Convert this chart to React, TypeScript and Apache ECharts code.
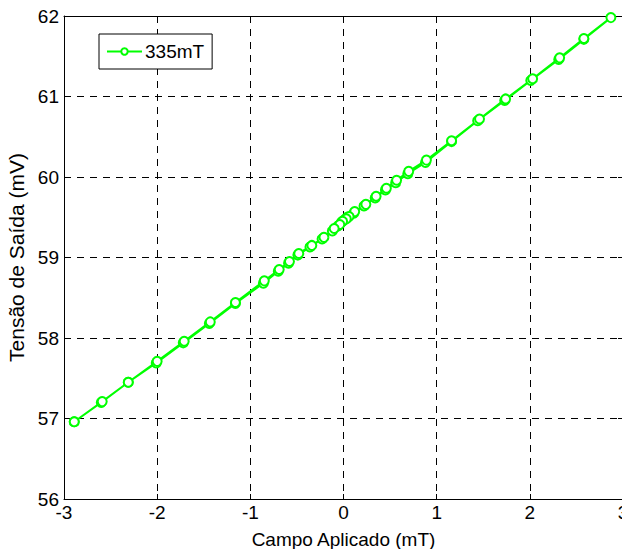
import React, { useEffect, useRef } from "react";
import * as echarts from "echarts";

const seriesName = "335mT";
// ascending branch
const xUp = [-2.89, -2.6, -2.31, -2.01, -1.72, -1.44, -1.16, -0.86, -0.7, -0.59, -0.49, -0.36, -0.23, -0.12, -0.06, -0.02, 0.01, 0.04, 0.11, 0.22, 0.34, 0.45, 0.56, 0.69, 0.88, 1.16, 1.44, 1.73, 2.01, 2.31, 2.58, 2.87];
const yUp = [56.96, 57.2, 57.45, 57.69, 57.94, 58.18, 58.43, 58.68, 58.83, 58.93, 59.03, 59.13, 59.23, 59.33, 59.39, 59.44, 59.47, 59.5, 59.55, 59.64, 59.74, 59.84, 59.93, 60.04, 60.18, 60.44, 60.7, 60.95, 61.2, 61.46, 61.71, 61.98];
// descending branch
const xDown = [2.58, 2.32, 2.03, 1.74, 1.46, 1.16, 0.89, 0.7, 0.57, 0.46, 0.35, 0.24, 0.12, 0.06, 0.03, -0.01, -0.04, -0.1, -0.21, -0.34, -0.48, -0.58, -0.69, -0.85, -1.16, -1.43, -1.71, -2.0, -2.31, -2.59, -2.89];
const yDown = [61.72, 61.48, 61.22, 60.97, 60.72, 60.45, 60.21, 60.07, 59.96, 59.86, 59.76, 59.66, 59.57, 59.51, 59.48, 59.45, 59.41, 59.36, 59.25, 59.15, 59.05, 58.95, 58.85, 58.71, 58.44, 58.2, 57.96, 57.71, 57.45, 57.21, 56.96];

const xTicks = [-3, -2, -1, 0, 1, 2, 3];
const yTicks = [56, 57, 58, 59, 60, 61, 62];

const FONT = "'Liberation Sans', Arial, Helvetica, sans-serif";

export default function App() {
  const ref = useRef<HTMLDivElement>(null);
  useEffect(() => {
    if (!ref.current) return;
    const chart = echarts.init(ref.current, undefined, { renderer: "svg" });
    const data: number[][] = [];
    xUp.forEach((x, i) => data.push([x, yUp[i]]));
    xDown.forEach((x, i) => data.push([x, yDown[i]]));
    const green = "#00ff00";
    const baseAxis = {
      axisLine: { show: true, onZero: false, lineStyle: { color: "#000", width: 1 } },
      axisTick: { show: true, inside: true, length: 5, lineStyle: { color: "#000" } },
    };
    chart.setOption({
      animation: false,
      backgroundColor: "#fff",
      textStyle: { fontFamily: FONT },
      grid: { left: 64, right: 7, top: 16, bottom: 58, containLabel: false, outerBoundsMode: "none" },
      legend: {
        show: true,
        data: [seriesName],
        left: 99,
        top: 34,
        orient: "vertical",
        backgroundColor: "#fff",
        borderColor: "#000",
        borderWidth: 1,
        borderRadius: 0,
        padding: [8, 8, 8, 7],
        itemWidth: 35,
        itemHeight: 8,
        itemGap: 4,
        textStyle: { fontSize: 19, color: "#000", fontFamily: FONT, padding: [0, 0, 0, -2] },
      },
      xAxis: [
        {
          type: "value",
          min: -3,
          max: 3,
          interval: 1,
          position: "bottom",
          ...baseAxis,
          axisLabel: { show: true, fontSize: 19, color: "#000", margin: 4, fontFamily: FONT,
            showMinLabel: true, showMaxLabel: true, hideOverlap: false,
            formatter: (v: number) => (xTicks.includes(v) ? String(v) : "") },
          splitLine: { show: true, lineStyle: { color: "#000", type: [7, 6], width: 1 } },
          name: "Campo Aplicado (mT)",
          nameLocation: "middle",
          nameGap: 31,
          nameTextStyle: { fontSize: 19, color: "#000", fontFamily: FONT },
        },
        {
          type: "value",
          min: -3,
          max: 3,
          interval: 1,
          position: "top",
          ...baseAxis,
          axisLabel: { show: false },
          splitLine: { show: false },
        },
      ],
      yAxis: [
        {
          type: "value",
          min: 56,
          max: 62,
          interval: 1,
          position: "left",
          ...baseAxis,
          axisLabel: { show: true, fontSize: 19, color: "#000", margin: 5, fontFamily: FONT,
            showMinLabel: true, showMaxLabel: true,
            formatter: (v: number) => (yTicks.includes(v) ? String(v) : "") },
          splitLine: { show: true, lineStyle: { color: "#000", type: [7, 6], width: 1 } },
          name: "Tensão de Saída (mV)",
          nameLocation: "middle",
          nameGap: 33,
          nameTextStyle: { fontSize: 21, color: "#000", fontFamily: FONT },
        },
        {
          type: "value",
          min: 56,
          max: 62,
          interval: 1,
          position: "right",
          ...baseAxis,
          axisLabel: { show: false },
          splitLine: { show: false },
        },
      ],
      series: [
        {
          name: seriesName,
          type: "line",
          xAxisIndex: 0,
          yAxisIndex: 0,
          data,
          symbol: "emptyCircle",
          symbolSize: 9,
          showAllSymbol: true,
          lineStyle: { color: green, width: 2 },
          itemStyle: { color: green, borderColor: green, borderWidth: 1.8 },
        },
      ],
    });
    return () => chart.dispose();
  }, []);
  return <div ref={ref} style={{ width: 630, height: 557, margin: -8 }} />;
}
